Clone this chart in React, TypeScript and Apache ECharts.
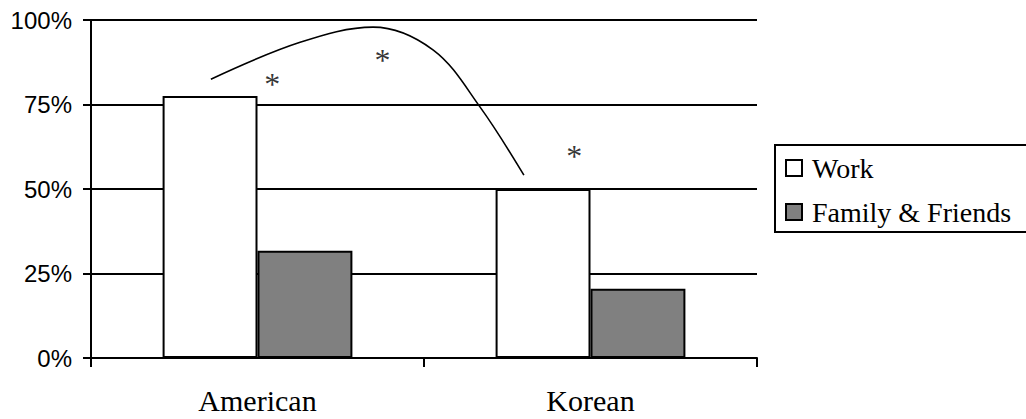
import React, { useEffect, useRef } from "react";
import * as echarts from "echarts";

const categories = ["American", "Korean"];
const workValues = [77.5, 50];
const familyValues = [31.7, 20.5];
const yTickValues = [0, 25, 50, 75, 100];
// annotation curve, in (category index, percent) units
const curvePoints: [number, number][] = [
  [-0.14, 82.5],
  [0.128, 93.4],
  [0.347, 97.9],
  [0.528, 91.1],
  [0.668, 74.3],
  [0.8, 54.1],
];
const asteriskPoints: [number, number][] = [
  [0.044, 82.2],
  [0.375, 89.3],
  [0.951, 60.9],
];

export default function App() {
  const ref = useRef<HTMLDivElement>(null);
  useEffect(() => {
    if (!ref.current) return;
    const chart = echarts.init(ref.current, undefined, { renderer: "svg" });
    const black = "#000";
    chart.setOption({
      animation: false,
      backgroundColor: "#fff",
      grid: { left: 91, top: 20, width: 666, height: 338, containLabel: false },
      legend: {
        orient: "vertical",
        left: 775,
        top: 145,
        padding: [8, 60, 5, 10],
        borderColor: black,
        borderWidth: 2,
        itemWidth: 16,
        itemHeight: 16,
        itemGap: 14,
        icon: "rect",
        textStyle: {
          fontFamily: "Liberation Serif",
          fontSize: 28,
          color: black,
          lineHeight: 30,
          padding: [0, 0, 0, 5],
        },
        data: [
          { name: "Work", itemStyle: { color: "#fff", borderColor: black, borderWidth: 2 } },
          { name: "Family & Friends", itemStyle: { color: "#808080", borderColor: black, borderWidth: 2 } },
        ],
      },
      xAxis: [
        {
          type: "category",
          data: categories,
          axisLine: { onZero: false, lineStyle: { color: black, width: 2 } },
          axisTick: { show: true, length: 9, lineStyle: { color: black, width: 2 } },
          axisLabel: {
            margin: 27,
            fontFamily: "Liberation Serif",
            fontSize: 30,
            color: black,
          },
          splitLine: { show: false },
        },
        {
          type: "value",
          min: -0.5,
          max: 1.5,
          show: false,
          position: "bottom",
          axisLine: { onZero: false },
        },
      ],
      yAxis: {
        type: "value",
        min: 0,
        max: 100,
        interval: 25,
        axisLine: { show: true, onZero: false, lineStyle: { color: black, width: 2 } },
        axisTick: { show: true, length: 8, lineStyle: { color: black, width: 2 } },
        axisLabel: {
          margin: 19,
          fontFamily: "Liberation Sans",
          fontSize: 24,
          color: black,
          formatter: (v: number) => (yTickValues.includes(v) ? `${v}%` : ""),
        },
        splitLine: { show: true, lineStyle: { color: black, width: 2 } },
      },
      series: [
        {
          name: "Work",
          type: "bar",
          data: workValues,
          barGap: "0%",
          barCategoryGap: "43%",
          itemStyle: { color: "#fff", borderColor: black, borderWidth: 2 },
          z: 3,
        },
        {
          name: "Family & Friends",
          type: "bar",
          data: familyValues,
          itemStyle: { color: "#808080", borderColor: black, borderWidth: 2 },
          z: 3,
        },
        {
          name: "curve",
          type: "line",
          xAxisIndex: 1,
          data: curvePoints,
          smooth: 0.35,
          symbol: "none",
          lineStyle: { color: black, width: 1.6 },
          z: 4,
        },
        {
          name: "asterisk",
          type: "scatter",
          xAxisIndex: 1,
          data: asteriskPoints,
          symbolSize: 1,
          itemStyle: { color: "rgba(0,0,0,0)" },
          label: {
            show: true,
            position: "inside",
            formatter: "*",
            fontFamily: "Liberation Serif",
            fontSize: 32,
            color: black,
            offset: [0, 4],
          },
          z: 5,
        },
      ],
    });
    return () => chart.dispose();
  }, []);
  return (
    <div
      ref={ref}
      style={{ position: "fixed", left: 0, top: 0, width: 1026, height: 419 }}
    />
  );
}
